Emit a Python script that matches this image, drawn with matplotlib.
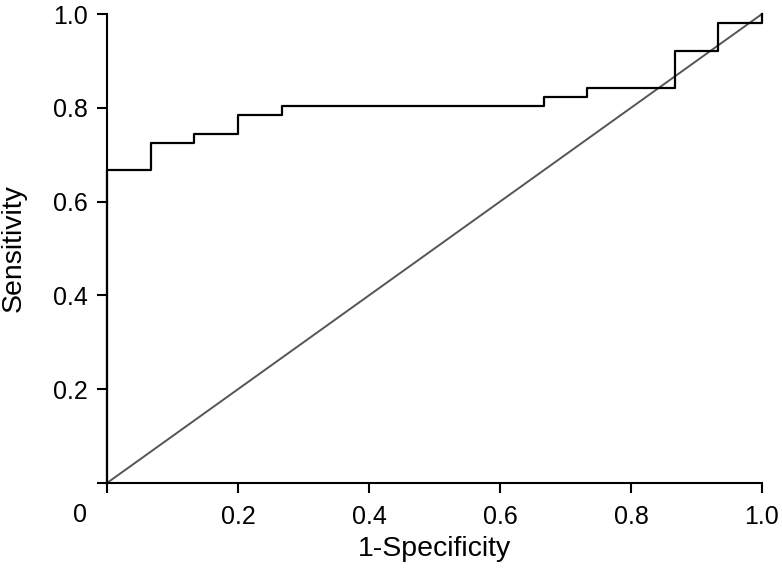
import matplotlib
matplotlib.use("Agg")
import matplotlib.pyplot as plt

# ROC step points (1-specificity, sensitivity)
fpr = [0.0, 0.0, 0.067, 0.133, 0.2, 0.267, 0.667, 0.733, 0.867, 0.933, 1.0]
tpr = [0.0, 0.667, 0.725, 0.745, 0.784, 0.804, 0.824, 0.843, 0.922, 0.980, 1.0]

ref_x = [0.0, 1.0]
ref_y = [0.0, 1.0]

ticks = [0.0, 0.2, 0.4, 0.6, 0.8, 1.0]
tick_labels = ["", "0.2", "0.4", "0.6", "0.8", "1.0"]

plt.rcParams.update({
    "font.family": ["Liberation Sans", "DejaVu Sans"],
    "font.size": 18,
})

fig = plt.figure(figsize=(7.82, 5.75), dpi=100)
ax = fig.add_axes([107 / 782, 1 - 483 / 575, 655 / 782, 469 / 575])

ax.plot(ref_x, ref_y, color="#555555", lw=1.4, clip_on=False)
ax.step(fpr, tpr, where="post", color="black", lw=1.6, clip_on=False)

ax.set_xlim(0, 1)
ax.set_ylim(0, 1)
ax.set_xticks(ticks)
ax.set_xticklabels(tick_labels)
ax.set_yticks(ticks)
ax.set_yticklabels(tick_labels)

for side in ["top", "right"]:
    ax.spines[side].set_visible(False)
for side in ["left", "bottom"]:
    ax.spines[side].set_linewidth(1.5)

ax.tick_params(direction="out", length=7, width=1.5, color="black")
ax.tick_params(axis="x", pad=9)
ax.tick_params(axis="y", pad=7)

# shared origin label
ax.annotate("0", xy=(0, 0), xytext=(-27, -32), textcoords="offset pixels",
            ha="center", va="center", fontsize=18, annotation_clip=False)

ax.set_xlabel("1-Specificity", fontsize=20.5)
ax.set_ylabel("Sensitivity", fontsize=20.5)
ax.xaxis.set_label_coords(0.5, (482 - 535) / 469)
ax.yaxis.set_label_coords((27 - 107) / 655, 0.5)

fig.savefig("out.png", dpi=100)
